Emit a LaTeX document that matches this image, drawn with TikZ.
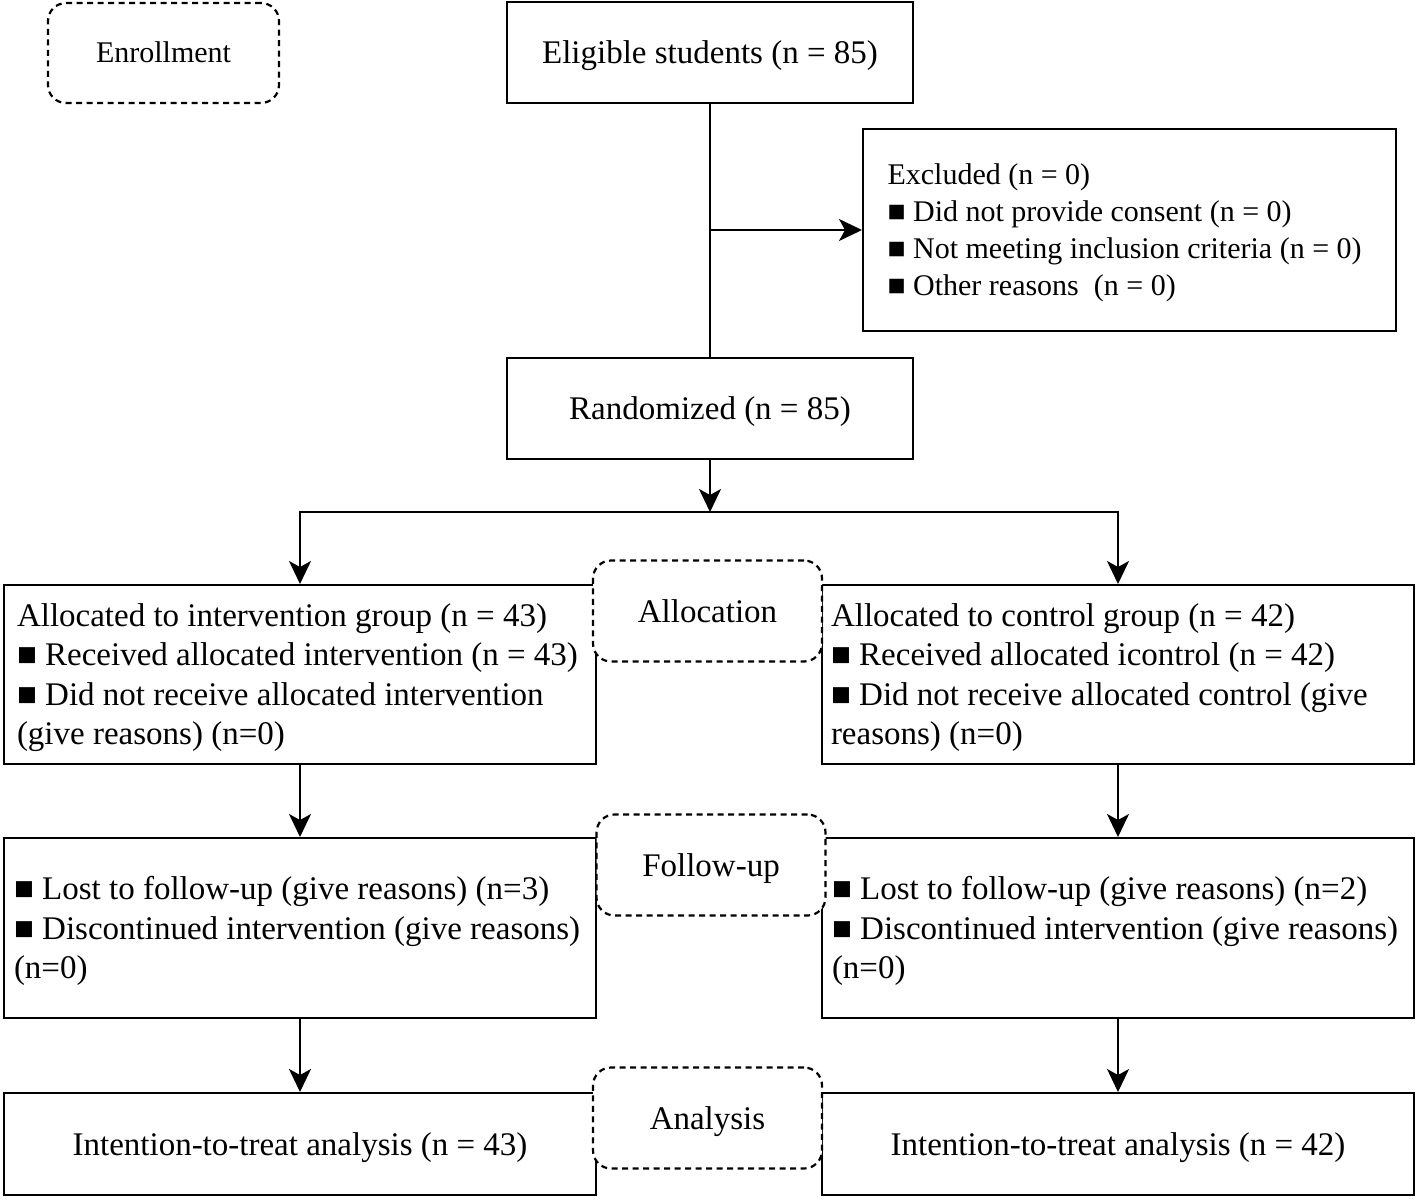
\documentclass[tikz,border=0pt]{standalone}
\usepackage{fontspec}
\setmainfont{Liberation Serif}
\usetikzlibrary{arrows.meta, positioning, calc}

\tikzset{
  box/.style={draw, line width=2pt, fill=white, inner sep=0pt, text height=22pt, text depth=0pt, font=\fontsize{33}{39.5}\selectfont},
  listbox/.style={box, align=left, execute at begin node={\spaceskip=0pt\xspaceskip=0pt}},
  stagebox/.style={draw, line width=2.2pt, dash pattern=on 6pt off 4.5pt, rounded corners=18pt, fill=white, inner sep=0pt, text height=22pt, text depth=0pt, minimum width=229pt, minimum height=101pt, font=\fontsize{33}{39.5}\selectfont},
  arr/.style={-{Stealth[length=23pt, width=22pt, inset=6pt]}, line width=2pt},
  link/.style={line width=2pt}
}

\begin{document}
\begin{tikzpicture}[x=1pt, y=-1pt]
    \useasboundingbox (0,0) rectangle (1416,1199);

    % Top: enrollment
    \node[box, minimum width=406pt, minimum height=101pt] (eligible) at (710,52.5) {Eligible students (n = 85)};
    \node[listbox, minimum width=533pt, minimum height=202pt, text width=484pt, text height=20pt, text depth=111pt, font=\fontsize{30}{37}\selectfont] (excluded) at (1129.5,230) {Excluded (n = 0)\\ ■ Did not provide consent (n = 0)\\ ■ Not meeting inclusion criteria (n = 0)\\ ■ Other reasons\ \ (n = 0)};
    \node[box, minimum width=406pt, minimum height=101pt] (random) at (710,408.5) {Randomized (n = 85)};
    \coordinate (split) at (710,512);

    % Allocation
    \node[listbox, minimum width=592pt, minimum height=179pt, text width=566pt, text depth=118.5pt] (allocL) at (300,674.5) {Allocated to intervention group (n = 43)\\ ■ Received allocated intervention (n = 43)\\ ■ Did not receive allocated intervention\\ (give reasons) (n=0)};
    \node[listbox, minimum width=592pt, minimum height=179pt, text width=574pt, text depth=118.5pt] (allocR) at (1118,674.5) {Allocated to control group (n = 42)\\ ■ Received allocated icontrol (n = 42)\\ ■ Did not receive allocated control (give\\ reasons) (n=0)};

    % Follow-up
    \node[listbox, minimum width=592pt, minimum height=180pt, text width=572pt, text depth=79pt] (followL) at (300,928) {■ Lost to follow-up (give reasons) (n=3)\\ ■ Discontinued intervention (give reasons)\\ (n=0)};
    \node[listbox, minimum width=592pt, minimum height=180pt, text width=572pt, text depth=79pt] (followR) at (1118,928) {■ Lost to follow-up (give reasons) (n=2)\\ ■ Discontinued intervention (give reasons)\\ (n=0)};

    % Analysis
    \node[box, minimum width=592pt, minimum height=102pt] (analysisL) at (300,1144) {Intention-to-treat analysis (n = 43)};
    \node[box, minimum width=592pt, minimum height=102pt] (analysisR) at (1118,1144) {Intention-to-treat analysis (n = 42)};

    % Connectors
    \draw[link] (eligible.south) -- (random.north);
    \draw[arr] (eligible.south |- excluded.west) -- (excluded.west);
    \draw[arr] (random.south) -- (split);
    \draw[arr] (split) -| (allocL.north);
    \draw[arr] (split) -| (allocR.north);
    \draw[arr] (allocL.south) -- (followL.north);
    \draw[arr] (allocR.south) -- (followR.north);
    \draw[arr] (followL.south) -- (analysisL.north);
    \draw[arr] (followR.south) -- (analysisR.north);

    % Stage labels
    \node[stagebox, minimum width=231pt, minimum height=100pt, text height=20pt, font=\fontsize{30}{36}\selectfont] (enrollment) at (163.5,53) {Enrollment};
    \node[stagebox] (allocation) at (707.5,611) {Allocation};
    \node[stagebox] (followup) at (711,865) {Follow-up};
    \node[stagebox] (analysis) at (707.5,1118) {Analysis};
\end{tikzpicture}
\end{document}
